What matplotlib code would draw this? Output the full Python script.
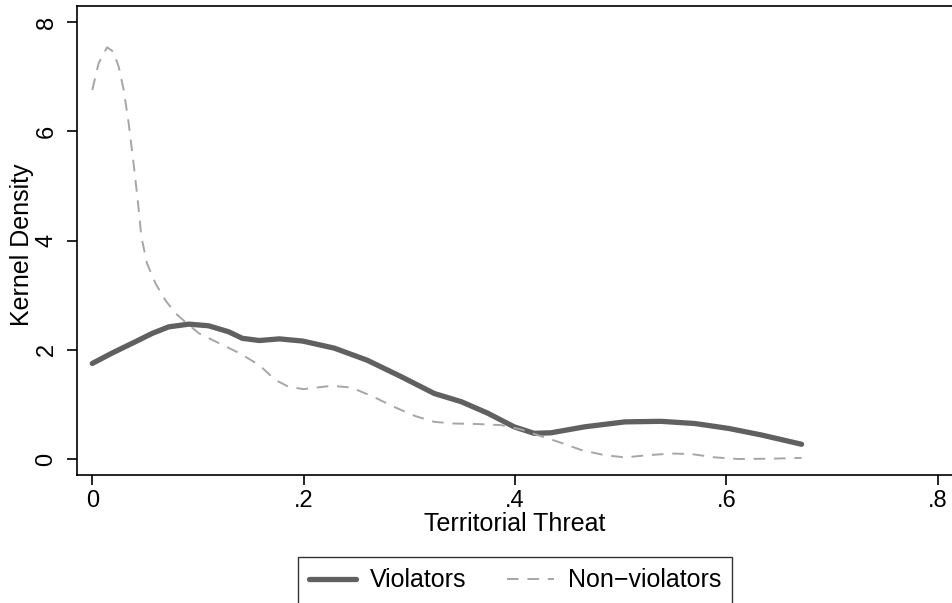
import matplotlib
matplotlib.use("Agg")
import matplotlib.pyplot as plt

plt.rcParams['font.family'] = ['Liberation Sans', 'DejaVu Sans']

viol_x = [0.0, 0.0187, 0.041, 0.0566, 0.0723, 0.0913, 0.110, 0.129, 0.142, 0.158, 0.177,
          0.199, 0.229, 0.260, 0.292, 0.3235, 0.349, 0.374, 0.399, 0.418, 0.434, 0.466,
          0.504, 0.538, 0.570, 0.602, 0.633, 0.671]
viol_y = [1.75, 1.94, 2.15, 2.30, 2.42, 2.47, 2.44, 2.33, 2.21, 2.17, 2.20,
          2.16, 2.03, 1.81, 1.51, 1.20, 1.05, 0.84, 0.59, 0.47, 0.48, 0.59,
          0.68, 0.69, 0.65, 0.56, 0.44, 0.27]

nonv_x = [0.0, 0.006, 0.014, 0.020, 0.025, 0.0297, 0.0344, 0.039, 0.0433, 0.0464, 0.0518,
          0.0597, 0.069, 0.0787, 0.088, 0.101, 0.120, 0.139, 0.158, 0.173, 0.186, 0.200,
          0.226, 0.245, 0.267, 0.286, 0.305, 0.3235, 0.342, 0.365, 0.387, 0.406, 0.421,
          0.440, 0.4626, 0.4846, 0.504, 0.526, 0.548, 0.567, 0.589, 0.611, 0.6395, 0.671]
nonv_y = [6.76, 7.25, 7.54, 7.46, 7.18, 6.76, 6.15, 5.42, 4.68, 4.07, 3.58,
          3.22, 2.91, 2.67, 2.51, 2.30, 2.12, 1.94, 1.72, 1.45, 1.32, 1.28,
          1.34, 1.31, 1.13, 0.95, 0.79, 0.68, 0.65, 0.64, 0.62, 0.54, 0.44,
          0.32, 0.165, 0.07, 0.03, 0.07, 0.10, 0.09, 0.03, 0.0, 0.005, 0.02]

xticks = [0, 0.2, 0.4, 0.6, 0.8]
xticklabels = ['0', '.2', '.4', '.6', '.8']
yticks = [0, 2, 4, 6, 8]
yticklabels = ['0', '2', '4', '6', '8']

FS = 18
TFS = 17

W, H = 953, 603
L, R, T, B = 77, 953, 6, 475
fig = plt.figure(figsize=(W/100, H/100), dpi=100)
ax = fig.add_axes([L/W, 1-B/H, (R-L)/W, (B-T)/H])

ax.plot(viol_x, viol_y, color='#606060', lw=3.8, solid_capstyle='round',
        solid_joinstyle='round', label='Violators', zorder=3)
ax.plot(nonv_x, nonv_y, color='#a6a6a6', lw=1.4, dashes=(6, 4.5),
        label='Non\u2212violators', zorder=4)

x0px, xpu = 92.3, 1057.0
y0px, ypu = 459.0, 54.6
ax.set_xlim((L - x0px)/xpu, (R - x0px)/xpu)
ax.set_ylim((y0px - B)/ypu, (y0px - T)/ypu)
ax.set_xticks(xticks)
ax.set_xticklabels(xticklabels, fontsize=TFS)
ax.set_yticks(yticks)
ax.set_yticklabels(yticklabels, fontsize=TFS, rotation=90, va='center')
ax.tick_params(direction='out', length=7, width=1.2, colors='black')
ax.tick_params(axis='x', pad=4)
ax.tick_params(axis='y', pad=7)
for s in ax.spines.values():
    s.set_linewidth(1.2)
ax.spines['right'].set_visible(False)
ax.set_xlabel('Territorial Threat', fontsize=FS, labelpad=0)
ax.set_ylabel('Kernel Density', fontsize=FS, va='center')
ax.yaxis.set_label_coords(-(L - 22)/(R - L), (B - 245)/(B - T))

leg = fig.legend(loc='upper center', bbox_to_anchor=(515/W, 1-557/H), ncol=2,
                 fontsize=FS, frameon=True, fancybox=False, edgecolor='black',
                 handlelength=1.9, columnspacing=1.6, borderpad=0.45,
                 handletextpad=0.55, borderaxespad=0)
leg.get_frame().set_linewidth(1.0)

fig.savefig('out.png', dpi=100)
